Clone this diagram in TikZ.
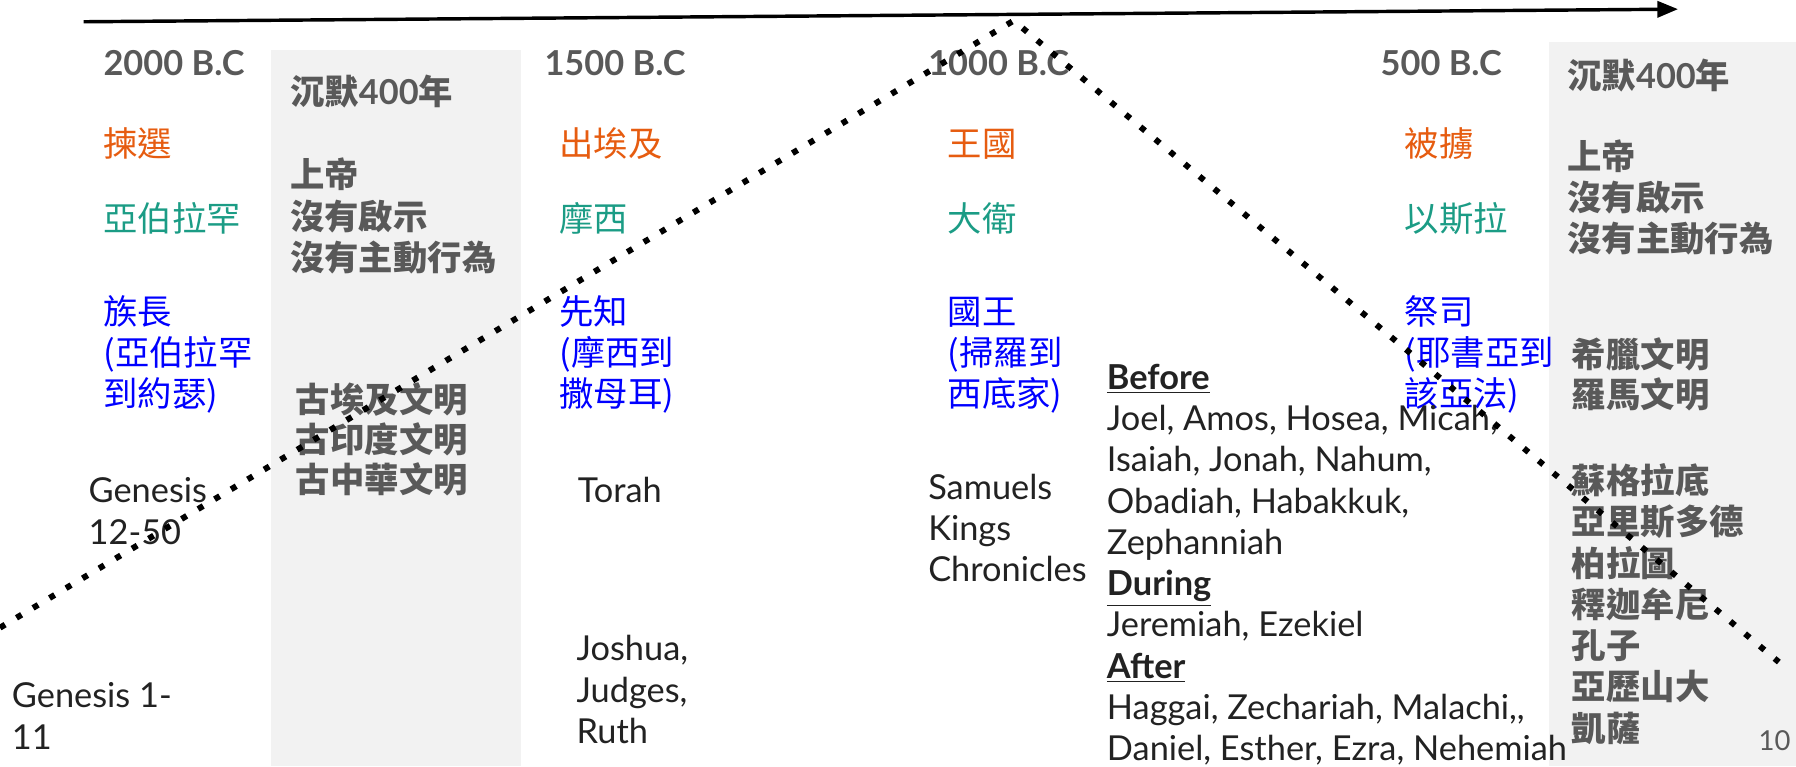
\documentclass[tikz,border=0pt]{standalone}
\usepackage{fontspec}
\setmainfont{Lato}
\newfontfamily\cjk{Noto Sans CJK TC}
\usetikzlibrary{arrows.meta}

\definecolor{textgray}{HTML}{595959}
\definecolor{silentbg}{HTML}{F2F2F2}
\definecolor{eventorange}{HTML}{E65C10}
\definecolor{personteal}{HTML}{1B9C85}
\definecolor{roleblue}{HTML}{0000FF}
\definecolor{bookblack}{HTML}{222222}

\tikzset{
  year/.style={anchor=base west, inner sep=0, text=textgray, font=\bfseries\fontsize{15}{18}\selectfont},
  event/.style={anchor=base west, inner sep=0, text=eventorange, font=\cjk\fontsize{15}{18}\selectfont},
  person/.style={anchor=base west, inner sep=0, text=personteal, font=\cjk\fontsize{15}{18}\selectfont},
  role/.style={anchor=base west, inner sep=0, text=roleblue, align=left, font=\cjk\fontsize{15}{18}\selectfont},
  book/.style={anchor=base west, inner sep=0, text=bookblack, align=left, font=\fontsize{15}{18}\selectfont},
  silent/.style={anchor=base west, inner sep=0, text=textgray, align=left, font=\cjk\bfseries\fontsize{15}{18}\selectfont},
  civ/.style={silent, font=\cjk\bfseries\fontsize{15}{17.5}\selectfont},
  timeline/.style={line width=1.5pt, -{Triangle[length=9pt,width=7pt]}},
  history/.style={line width=2.6pt, line cap=butt, dash pattern=on 2.6pt off 5.8pt, black}
}

\begin{document}
\begin{tikzpicture}[x=0.5pt, y=-0.5pt]
\useasboundingbox (0, 0) rectangle (1568, 669);

% silent years
\fill[silentbg] (237, 44) rectangle (455, 669);
\fill[silentbg] (1352, 37) rectangle (1568, 669);

% time axis
\coordinate (tl) at (73, 19);
\coordinate (tr) at (1465, 8);
\draw[timeline] (tl) -- (tr);

% years
\node (y2000) at (90, 66) [year] {2000 B.C};
\node (y1500) at (475, 66) [year] {1500 B.C};
\node (y1000) at (810, 66) [year] {1000 B.C};
\node (y500) at (1205, 66) [year] {500 B.C};

% events (multi-line nodes sit on their last line)
\node (choose) at (90, 137) [event] {揀選};
\node (exodus) at (488, 137) [event] {出埃及};
\node (kingdom) at (827, 137) [event] {王國};
\node (exile) at (1226, 137) [event] {被擄};

\node (abraham) at (90, 202) [person] {亞伯拉罕};
\node (moses) at (488, 202) [person] {摩西};
\node (david) at (827, 202) [person] {大衛};
\node (ezra) at (1226, 202) [person] {以斯拉};

\node (patriarch) at (90, 355) [role] {族長\\(亞伯拉罕\\到約瑟)};
\node (prophet) at (488, 355) [role] {先知\\(摩西到\\撒母耳)};
\node (king) at (827, 355) [role] {國王\\(掃羅到\\西底家)};
\node (priest) at (1226, 355) [role] {祭司\\(耶書亞到\\該亞法)};

% first silence
\node (silent1) at (253, 91) [silent] {沉默\textrm{\bfseries 400}年};
\node (god1) at (253, 236) [silent] {上帝\\沒有啟示\\沒有主動行為};
\node (civ1) at (258, 430) [civ] {古埃及文明\\古印度文明\\古中華文明};

% second silence
\node (silent2) at (1368, 77) [silent] {沉默\textrm{\bfseries 400}年};
\node (god2) at (1368, 220) [silent] {上帝\\沒有啟示\\沒有主動行為};
\node (civ2) at (1372, 356) [civ] {希臘文明\\羅馬文明};
\node (sages) at (1372, 647) [silent] {蘇格拉底\\亞里斯多德\\柏拉圖\\釋迦牟尼\\孔子\\亞歷山大\\凱薩};

% books
\node (gen2) at (77, 475) [book] {Genesis\\12-50};
\node (gen1) at (10, 654) [book] {Genesis 1-\\11};
\node (torah) at (504, 439) [book] {Torah};
\node (joshua) at (503, 649) [book] {Joshua,\\Judges,\\Ruth};
\node (samuel) at (810, 508) [book] {Samuels\\Kings\\Chronicles};
\node (prophets) at (966, 664) [book] {\underline{\textbf{Before}}\\
  Joel, Amos, Hosea, Micah,\\
  Isaiah, Jonah, Nahum,\\
  Obadiah, Habakkuk,\\
  Zephanniah\\
  \underline{\textbf{During}}\\
  Jeremiah, Ezekiel\\
  \underline{\textbf{After}}\\
  Haggai, Zechariah, Malachi,{},\\
  Daniel, Esther, Ezra, Nehemiah};

\node (page) at (1535, 655) [anchor=base west, inner sep=0, text=textgray, font=\fontsize{12}{14}\selectfont] {10};

% rise and fall
\coordinate (hs) at (0, 548);
\coordinate (hp) at (885, 18);
\coordinate (he) at (1553, 578);
\draw[history] (hs) -- (hp) -- (he);
\end{tikzpicture}
\end{document}
